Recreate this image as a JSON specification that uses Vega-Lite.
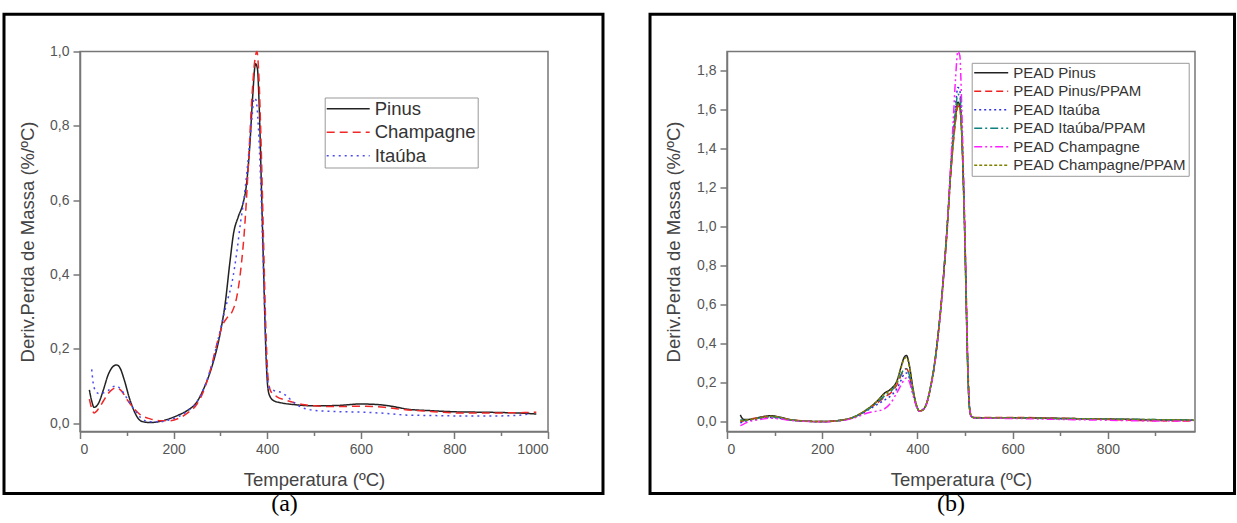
{
  "$schema": "https://vega.github.io/schema/vega-lite/v6.json",
  "padding": {"left": 1, "top": 11.5, "right": 0, "bottom": 0},
  "background": "white",
  "spacing": 41,
  "config": {
    "view": {"stroke": "#777", "strokeWidth": 1.5},
    "axis": {"labelFont": "Liberation Sans", "titleFont": "Liberation Sans", "titleFontWeight": "normal", "grid": false, "domainColor": "#777", "domainWidth": 1.5, "tickColor": "#777", "tickWidth": 1.5, "labelColor": "#555", "titleColor": "#444", "labelFontSize": 14, "titleFontSize": 18.5},
    "legend": {"labelFont": "Liberation Sans", "labelColor": "#333", "strokeColor": "#999", "symbolStrokeWidth": 1.6, "labelLimit": 400}
  },
  "resolve": {"scale": {"color": "independent", "strokeDash": "independent"}},
  "hconcat": [
    {
      "width": 468, "height": 380,
      "title": {"text": "(a)", "orient": "bottom", "anchor": "middle", "frame": "group", "dx": -29.5, "offset": -3, "font": "Liberation Serif", "fontSize": 24, "fontWeight": "normal", "color": "#000"},
      "layer": [
        {
          "data": {"values": [{"x0": -162.4, "x1": 1117.5, "y0": -0.189, "y1": 1.1}]},
          "mark": {"type": "rect", "fill": "transparent", "stroke": "#000", "strokeWidth": 3},
          "encoding": {
            "x": {"field": "x0", "type": "quantitative", "title": "Temperatura (ºC)"},
            "x2": {"field": "x1"},
            "y": {"field": "y0", "type": "quantitative", "title": "Deriv.Perda de Massa (%/ºC)"},
            "y2": {"field": "y1"}
          }
        },
        {
          "data": {"values": [
            {"s":"Pinus","T":20,"v":0.09},{"s":"Pinus","T":25,"v":0.06},{"s":"Pinus","T":30,"v":0.043},{"s":"Pinus","T":40,"v":0.055},{"s":"Pinus","T":50,"v":0.09},{"s":"Pinus","T":60,"v":0.13},{"s":"Pinus","T":70,"v":0.152},{"s":"Pinus","T":78,"v":0.157},{"s":"Pinus","T":85,"v":0.15},{"s":"Pinus","T":95,"v":0.115},{"s":"Pinus","T":105,"v":0.07},{"s":"Pinus","T":115,"v":0.035},{"s":"Pinus","T":125,"v":0.012},{"s":"Pinus","T":135,"v":0.004},{"s":"Pinus","T":150,"v":0.002},{"s":"Pinus","T":170,"v":0.005},{"s":"Pinus","T":190,"v":0.012},{"s":"Pinus","T":210,"v":0.022},{"s":"Pinus","T":230,"v":0.035},{"s":"Pinus","T":250,"v":0.058},{"s":"Pinus","T":265,"v":0.095},{"s":"Pinus","T":280,"v":0.145},{"s":"Pinus","T":300,"v":0.245},{"s":"Pinus","T":310,"v":0.32},{"s":"Pinus","T":320,"v":0.43},{"s":"Pinus","T":328,"v":0.51},{"s":"Pinus","T":338,"v":0.555},{"s":"Pinus","T":348,"v":0.59},{"s":"Pinus","T":356,"v":0.645},{"s":"Pinus","T":363,"v":0.75},{"s":"Pinus","T":369,"v":0.88},{"s":"Pinus","T":375,"v":0.967},{"s":"Pinus","T":379,"v":0.955},{"s":"Pinus","T":383,"v":0.85},{"s":"Pinus","T":388,"v":0.62},{"s":"Pinus","T":393,"v":0.38},{"s":"Pinus","T":397,"v":0.2},{"s":"Pinus","T":401,"v":0.1},{"s":"Pinus","T":405,"v":0.075},{"s":"Pinus","T":415,"v":0.06},{"s":"Pinus","T":430,"v":0.055},{"s":"Pinus","T":460,"v":0.05},{"s":"Pinus","T":500,"v":0.047},{"s":"Pinus","T":550,"v":0.048},{"s":"Pinus","T":600,"v":0.052},{"s":"Pinus","T":640,"v":0.05},{"s":"Pinus","T":670,"v":0.045},{"s":"Pinus","T":700,"v":0.038},{"s":"Pinus","T":750,"v":0.034},{"s":"Pinus","T":800,"v":0.031},{"s":"Pinus","T":850,"v":0.03},{"s":"Pinus","T":900,"v":0.029},{"s":"Pinus","T":950,"v":0.027},{"s":"Pinus","T":975,"v":0.025},
            {"s":"Champagne","T":20,"v":0.065},{"s":"Champagne","T":25,"v":0.04},{"s":"Champagne","T":30,"v":0.028},{"s":"Champagne","T":40,"v":0.04},{"s":"Champagne","T":50,"v":0.06},{"s":"Champagne","T":60,"v":0.08},{"s":"Champagne","T":70,"v":0.092},{"s":"Champagne","T":78,"v":0.095},{"s":"Champagne","T":88,"v":0.088},{"s":"Champagne","T":100,"v":0.065},{"s":"Champagne","T":115,"v":0.04},{"s":"Champagne","T":130,"v":0.022},{"s":"Champagne","T":150,"v":0.012},{"s":"Champagne","T":170,"v":0.007},{"s":"Champagne","T":190,"v":0.007},{"s":"Champagne","T":210,"v":0.013},{"s":"Champagne","T":230,"v":0.028},{"s":"Champagne","T":250,"v":0.052},{"s":"Champagne","T":265,"v":0.09},{"s":"Champagne","T":280,"v":0.15},{"s":"Champagne","T":295,"v":0.225},{"s":"Champagne","T":305,"v":0.265},{"s":"Champagne","T":315,"v":0.285},{"s":"Champagne","T":325,"v":0.3},{"s":"Champagne","T":335,"v":0.34},{"s":"Champagne","T":345,"v":0.43},{"s":"Champagne","T":352,"v":0.53},{"s":"Champagne","T":360,"v":0.7},{"s":"Champagne","T":367,"v":0.87},{"s":"Champagne","T":373,"v":0.97},{"s":"Champagne","T":378,"v":1.0},{"s":"Champagne","T":382,"v":0.94},{"s":"Champagne","T":387,"v":0.75},{"s":"Champagne","T":392,"v":0.5},{"s":"Champagne","T":397,"v":0.26},{"s":"Champagne","T":402,"v":0.12},{"s":"Champagne","T":408,"v":0.085},{"s":"Champagne","T":420,"v":0.072},{"s":"Champagne","T":440,"v":0.062},{"s":"Champagne","T":460,"v":0.055},{"s":"Champagne","T":480,"v":0.05},{"s":"Champagne","T":500,"v":0.047},{"s":"Champagne","T":550,"v":0.045},{"s":"Champagne","T":600,"v":0.046},{"s":"Champagne","T":650,"v":0.043},{"s":"Champagne","T":700,"v":0.036},{"s":"Champagne","T":750,"v":0.032},{"s":"Champagne","T":800,"v":0.028},{"s":"Champagne","T":850,"v":0.028},{"s":"Champagne","T":900,"v":0.028},{"s":"Champagne","T":950,"v":0.029},{"s":"Champagne","T":975,"v":0.03},
            {"s":"Itaúba","T":25,"v":0.145},{"s":"Itaúba","T":28,"v":0.11},{"s":"Itaúba","T":32,"v":0.09},{"s":"Itaúba","T":40,"v":0.08},{"s":"Itaúba","T":50,"v":0.082},{"s":"Itaúba","T":60,"v":0.088},{"s":"Itaúba","T":70,"v":0.098},{"s":"Itaúba","T":78,"v":0.1},{"s":"Itaúba","T":88,"v":0.09},{"s":"Itaúba","T":100,"v":0.068},{"s":"Itaúba","T":115,"v":0.038},{"s":"Itaúba","T":130,"v":0.015},{"s":"Itaúba","T":150,"v":0.004},{"s":"Itaúba","T":170,"v":0.004},{"s":"Itaúba","T":190,"v":0.009},{"s":"Itaúba","T":210,"v":0.018},{"s":"Itaúba","T":230,"v":0.033},{"s":"Itaúba","T":250,"v":0.058},{"s":"Itaúba","T":265,"v":0.095},{"s":"Itaúba","T":280,"v":0.15},{"s":"Itaúba","T":295,"v":0.225},{"s":"Itaúba","T":305,"v":0.28},{"s":"Itaúba","T":315,"v":0.33},{"s":"Itaúba","T":325,"v":0.38},{"s":"Itaúba","T":335,"v":0.46},{"s":"Itaúba","T":343,"v":0.54},{"s":"Itaúba","T":350,"v":0.6},{"s":"Itaúba","T":357,"v":0.68},{"s":"Itaúba","T":363,"v":0.76},{"s":"Itaúba","T":368,"v":0.83},{"s":"Itaúba","T":372,"v":0.875},{"s":"Itaúba","T":376,"v":0.87},{"s":"Itaúba","T":381,"v":0.8},{"s":"Itaúba","T":386,"v":0.65},{"s":"Itaúba","T":391,"v":0.45},{"s":"Itaúba","T":396,"v":0.25},{"s":"Itaúba","T":400,"v":0.13},{"s":"Itaúba","T":405,"v":0.095},{"s":"Itaúba","T":415,"v":0.088},{"s":"Itaúba","T":430,"v":0.083},{"s":"Itaúba","T":440,"v":0.075},{"s":"Itaúba","T":455,"v":0.058},{"s":"Itaúba","T":470,"v":0.045},{"s":"Itaúba","T":490,"v":0.037},{"s":"Itaúba","T":520,"v":0.033},{"s":"Itaúba","T":600,"v":0.03},{"s":"Itaúba","T":650,"v":0.027},{"s":"Itaúba","T":700,"v":0.022},{"s":"Itaúba","T":750,"v":0.021},{"s":"Itaúba","T":800,"v":0.02},{"s":"Itaúba","T":850,"v":0.02},{"s":"Itaúba","T":900,"v":0.02},{"s":"Itaúba","T":940,"v":0.022},{"s":"Itaúba","T":960,"v":0.025}
          ]},
          "mark": {"type": "line", "strokeWidth": 1.5, "interpolate": "monotone"},
          "encoding": {
            "x": {"field": "T", "type": "quantitative", "title": "Temperatura (ºC)",
              "scale": {"domain": [0, 1000], "nice": false, "zero": false},
              "axis": {"values": [0,100,200,300,400,500,600,700,800,900,1000],
                "labelExpr": "datum.value % 200 == 0 ? '' + datum.value : ''",
                "tickSize": {"condition": {"test": "datum.value % 200 == 0", "value": 7}, "value": 4},
                "titlePadding": 14, "labelPadding": 4}},
            "y": {"field": "v", "type": "quantitative", "title": "Deriv.Perda de Massa (%/ºC)",
              "scale": {"domain": [-0.022, 1.0], "nice": false, "zero": false},
              "axis": {"values": [0,0.1,0.2,0.3,0.4,0.5,0.6,0.7,0.8,0.9,1.0],
                "labelExpr": "round(datum.value*10) % 2 == 0 ? replace(format(datum.value, '.1f'), '.', ',') : ''",
                "tickSize": {"condition": {"test": "round(datum.value*10) % 2 == 0", "value": 7}, "value": 4},
                "titlePadding": 12, "labelPadding": 4}},
            "color": {"field": "s", "type": "nominal",
              "scale": {"domain": ["Pinus", "Champagne", "Itaúba"], "range": ["#222222", "#f02828", "#4a4af0"]},
              "legend": {"title": null, "orient": "none", "legendX": 244.7, "legendY": 46, "labelFontSize": 18.5, "symbolType": "M-1.85,0L6.75,0", "symbolSize": 100, "padding": 2, "rowPadding": 4.5, "labelOffset": 29.5}},
            "strokeDash": {"field": "s", "type": "nominal",
              "scale": {"domain": ["Pinus", "Champagne", "Itaúba"], "range": [[1, 0], [8, 5], [2, 4]]},
              "legend": {"title": null, "orient": "none", "legendX": 244.7, "legendY": 46, "labelFontSize": 18.5, "symbolType": "M-1.85,0L6.75,0", "symbolSize": 100, "padding": 2, "rowPadding": 4.5, "labelOffset": 29.5}}
          }
        }
      ]
    },
    {
      "width": 468, "height": 380,
      "title": {"text": "(b)", "orient": "bottom", "anchor": "middle", "frame": "group", "dx": -10, "offset": -3, "font": "Liberation Serif", "fontSize": 24, "fontWeight": "normal", "color": "#000"},
      "layer": [
        {
          "data": {"values": [{"x0": -161.7, "x1": 1066, "y0": -0.368, "y1": 2.0914}]},
          "mark": {"type": "rect", "fill": "transparent", "stroke": "#000", "strokeWidth": 3},
          "encoding": {
            "x": {"field": "x0", "type": "quantitative", "title": "Temperatura (ºC)"},
            "x2": {"field": "x1"},
            "y": {"field": "y0", "type": "quantitative", "title": "Deriv.Perda de Massa (%/ºC)"},
            "y2": {"field": "y1"}
          }
        },
        {
          "data": {"values": [
            {"s":"PEAD Pinus","T":28,"v":0.035},{"s":"PEAD Pinus","T":35,"v":0.012},{"s":"PEAD Pinus","T":45,"v":0.012},{"s":"PEAD Pinus","T":60,"v":0.018},{"s":"PEAD Pinus","T":75,"v":0.026},{"s":"PEAD Pinus","T":92,"v":0.031},{"s":"PEAD Pinus","T":110,"v":0.024},{"s":"PEAD Pinus","T":130,"v":0.012},{"s":"PEAD Pinus","T":160,"v":0.004},{"s":"PEAD Pinus","T":200,"v":0.001},{"s":"PEAD Pinus","T":240,"v":0.008},{"s":"PEAD Pinus","T":270,"v":0.028},{"s":"PEAD Pinus","T":295,"v":0.065},{"s":"PEAD Pinus","T":315,"v":0.105},{"s":"PEAD Pinus","T":330,"v":0.145},{"s":"PEAD Pinus","T":345,"v":0.17},{"s":"PEAD Pinus","T":357,"v":0.21},{"s":"PEAD Pinus","T":366,"v":0.285},{"s":"PEAD Pinus","T":372,"v":0.33},{"s":"PEAD Pinus","T":377,"v":0.34},{"s":"PEAD Pinus","T":383,"v":0.29},{"s":"PEAD Pinus","T":390,"v":0.18},{"s":"PEAD Pinus","T":397,"v":0.095},{"s":"PEAD Pinus","T":404,"v":0.056},{"s":"PEAD Pinus","T":411,"v":0.06},{"s":"PEAD Pinus","T":420,"v":0.1},{"s":"PEAD Pinus","T":428,"v":0.185},{"s":"PEAD Pinus","T":436,"v":0.3},{"s":"PEAD Pinus","T":443,"v":0.44},{"s":"PEAD Pinus","T":450,"v":0.61},{"s":"PEAD Pinus","T":457,"v":0.82},{"s":"PEAD Pinus","T":463,"v":1.02},{"s":"PEAD Pinus","T":469,"v":1.25},{"s":"PEAD Pinus","T":475,"v":1.44},{"s":"PEAD Pinus","T":480,"v":1.56},{"s":"PEAD Pinus","T":485,"v":1.64},{"s":"PEAD Pinus","T":489,"v":1.62},{"s":"PEAD Pinus","T":493,"v":1.48},{"s":"PEAD Pinus","T":497,"v":1.18},{"s":"PEAD Pinus","T":500,"v":0.9},{"s":"PEAD Pinus","T":503,"v":0.55},{"s":"PEAD Pinus","T":506,"v":0.25},{"s":"PEAD Pinus","T":509,"v":0.08},{"s":"PEAD Pinus","T":513,"v":0.028},{"s":"PEAD Pinus","T":520,"v":0.02},{"s":"PEAD Pinus","T":600,"v":0.02},{"s":"PEAD Pinus","T":700,"v":0.017},{"s":"PEAD Pinus","T":800,"v":0.014},{"s":"PEAD Pinus","T":900,"v":0.01},{"s":"PEAD Pinus","T":980,"v":0.008},
            {"s":"PEAD Pinus/PPAM","T":28,"v":0.0},{"s":"PEAD Pinus/PPAM","T":35,"v":0.005},{"s":"PEAD Pinus/PPAM","T":45,"v":0.012},{"s":"PEAD Pinus/PPAM","T":60,"v":0.018},{"s":"PEAD Pinus/PPAM","T":75,"v":0.024},{"s":"PEAD Pinus/PPAM","T":92,"v":0.027},{"s":"PEAD Pinus/PPAM","T":110,"v":0.022},{"s":"PEAD Pinus/PPAM","T":130,"v":0.012},{"s":"PEAD Pinus/PPAM","T":160,"v":0.004},{"s":"PEAD Pinus/PPAM","T":200,"v":0.001},{"s":"PEAD Pinus/PPAM","T":240,"v":0.008},{"s":"PEAD Pinus/PPAM","T":270,"v":0.027},{"s":"PEAD Pinus/PPAM","T":295,"v":0.062},{"s":"PEAD Pinus/PPAM","T":315,"v":0.095},{"s":"PEAD Pinus/PPAM","T":330,"v":0.125},{"s":"PEAD Pinus/PPAM","T":345,"v":0.15},{"s":"PEAD Pinus/PPAM","T":357,"v":0.19},{"s":"PEAD Pinus/PPAM","T":366,"v":0.24},{"s":"PEAD Pinus/PPAM","T":372,"v":0.268},{"s":"PEAD Pinus/PPAM","T":377,"v":0.272},{"s":"PEAD Pinus/PPAM","T":383,"v":0.24},{"s":"PEAD Pinus/PPAM","T":390,"v":0.16},{"s":"PEAD Pinus/PPAM","T":397,"v":0.088},{"s":"PEAD Pinus/PPAM","T":404,"v":0.055},{"s":"PEAD Pinus/PPAM","T":411,"v":0.06},{"s":"PEAD Pinus/PPAM","T":420,"v":0.098},{"s":"PEAD Pinus/PPAM","T":428,"v":0.18},{"s":"PEAD Pinus/PPAM","T":436,"v":0.29},{"s":"PEAD Pinus/PPAM","T":443,"v":0.43},{"s":"PEAD Pinus/PPAM","T":450,"v":0.6},{"s":"PEAD Pinus/PPAM","T":457,"v":0.8},{"s":"PEAD Pinus/PPAM","T":463,"v":1.0},{"s":"PEAD Pinus/PPAM","T":469,"v":1.23},{"s":"PEAD Pinus/PPAM","T":475,"v":1.42},{"s":"PEAD Pinus/PPAM","T":480,"v":1.54},{"s":"PEAD Pinus/PPAM","T":485,"v":1.62},{"s":"PEAD Pinus/PPAM","T":489,"v":1.61},{"s":"PEAD Pinus/PPAM","T":493,"v":1.5},{"s":"PEAD Pinus/PPAM","T":497,"v":1.22},{"s":"PEAD Pinus/PPAM","T":500,"v":0.95},{"s":"PEAD Pinus/PPAM","T":503,"v":0.62},{"s":"PEAD Pinus/PPAM","T":506,"v":0.3},{"s":"PEAD Pinus/PPAM","T":509,"v":0.1},{"s":"PEAD Pinus/PPAM","T":513,"v":0.03},{"s":"PEAD Pinus/PPAM","T":520,"v":0.022},{"s":"PEAD Pinus/PPAM","T":600,"v":0.022},{"s":"PEAD Pinus/PPAM","T":700,"v":0.018},{"s":"PEAD Pinus/PPAM","T":800,"v":0.012},{"s":"PEAD Pinus/PPAM","T":900,"v":0.005},{"s":"PEAD Pinus/PPAM","T":980,"v":0.004},
            {"s":"PEAD Itaúba","T":28,"v":-0.005},{"s":"PEAD Itaúba","T":35,"v":0.0},{"s":"PEAD Itaúba","T":45,"v":0.006},{"s":"PEAD Itaúba","T":60,"v":0.012},{"s":"PEAD Itaúba","T":75,"v":0.018},{"s":"PEAD Itaúba","T":92,"v":0.022},{"s":"PEAD Itaúba","T":110,"v":0.018},{"s":"PEAD Itaúba","T":130,"v":0.01},{"s":"PEAD Itaúba","T":160,"v":0.003},{"s":"PEAD Itaúba","T":200,"v":0.0},{"s":"PEAD Itaúba","T":240,"v":0.007},{"s":"PEAD Itaúba","T":270,"v":0.025},{"s":"PEAD Itaúba","T":295,"v":0.058},{"s":"PEAD Itaúba","T":315,"v":0.088},{"s":"PEAD Itaúba","T":330,"v":0.11},{"s":"PEAD Itaúba","T":345,"v":0.135},{"s":"PEAD Itaúba","T":357,"v":0.17},{"s":"PEAD Itaúba","T":366,"v":0.215},{"s":"PEAD Itaúba","T":372,"v":0.245},{"s":"PEAD Itaúba","T":377,"v":0.25},{"s":"PEAD Itaúba","T":383,"v":0.225},{"s":"PEAD Itaúba","T":390,"v":0.15},{"s":"PEAD Itaúba","T":397,"v":0.085},{"s":"PEAD Itaúba","T":404,"v":0.055},{"s":"PEAD Itaúba","T":411,"v":0.062},{"s":"PEAD Itaúba","T":420,"v":0.1},{"s":"PEAD Itaúba","T":428,"v":0.185},{"s":"PEAD Itaúba","T":436,"v":0.295},{"s":"PEAD Itaúba","T":443,"v":0.44},{"s":"PEAD Itaúba","T":450,"v":0.61},{"s":"PEAD Itaúba","T":457,"v":0.82},{"s":"PEAD Itaúba","T":463,"v":1.03},{"s":"PEAD Itaúba","T":469,"v":1.27},{"s":"PEAD Itaúba","T":475,"v":1.48},{"s":"PEAD Itaúba","T":480,"v":1.62},{"s":"PEAD Itaúba","T":485,"v":1.715},{"s":"PEAD Itaúba","T":489,"v":1.7},{"s":"PEAD Itaúba","T":493,"v":1.52},{"s":"PEAD Itaúba","T":497,"v":1.2},{"s":"PEAD Itaúba","T":500,"v":0.91},{"s":"PEAD Itaúba","T":503,"v":0.56},{"s":"PEAD Itaúba","T":506,"v":0.26},{"s":"PEAD Itaúba","T":509,"v":0.085},{"s":"PEAD Itaúba","T":513,"v":0.028},{"s":"PEAD Itaúba","T":520,"v":0.02},{"s":"PEAD Itaúba","T":600,"v":0.019},{"s":"PEAD Itaúba","T":700,"v":0.016},{"s":"PEAD Itaúba","T":800,"v":0.013},{"s":"PEAD Itaúba","T":900,"v":0.01},{"s":"PEAD Itaúba","T":980,"v":0.008},
            {"s":"PEAD Itaúba/PPAM","T":28,"v":0.01},{"s":"PEAD Itaúba/PPAM","T":35,"v":0.006},{"s":"PEAD Itaúba/PPAM","T":45,"v":0.01},{"s":"PEAD Itaúba/PPAM","T":60,"v":0.016},{"s":"PEAD Itaúba/PPAM","T":75,"v":0.022},{"s":"PEAD Itaúba/PPAM","T":92,"v":0.026},{"s":"PEAD Itaúba/PPAM","T":110,"v":0.021},{"s":"PEAD Itaúba/PPAM","T":130,"v":0.011},{"s":"PEAD Itaúba/PPAM","T":160,"v":0.004},{"s":"PEAD Itaúba/PPAM","T":200,"v":0.001},{"s":"PEAD Itaúba/PPAM","T":240,"v":0.008},{"s":"PEAD Itaúba/PPAM","T":270,"v":0.027},{"s":"PEAD Itaúba/PPAM","T":295,"v":0.062},{"s":"PEAD Itaúba/PPAM","T":315,"v":0.098},{"s":"PEAD Itaúba/PPAM","T":330,"v":0.13},{"s":"PEAD Itaúba/PPAM","T":345,"v":0.158},{"s":"PEAD Itaúba/PPAM","T":357,"v":0.2},{"s":"PEAD Itaúba/PPAM","T":366,"v":0.245},{"s":"PEAD Itaúba/PPAM","T":372,"v":0.27},{"s":"PEAD Itaúba/PPAM","T":377,"v":0.272},{"s":"PEAD Itaúba/PPAM","T":383,"v":0.24},{"s":"PEAD Itaúba/PPAM","T":390,"v":0.16},{"s":"PEAD Itaúba/PPAM","T":397,"v":0.09},{"s":"PEAD Itaúba/PPAM","T":404,"v":0.055},{"s":"PEAD Itaúba/PPAM","T":411,"v":0.06},{"s":"PEAD Itaúba/PPAM","T":420,"v":0.1},{"s":"PEAD Itaúba/PPAM","T":428,"v":0.183},{"s":"PEAD Itaúba/PPAM","T":436,"v":0.295},{"s":"PEAD Itaúba/PPAM","T":443,"v":0.435},{"s":"PEAD Itaúba/PPAM","T":450,"v":0.605},{"s":"PEAD Itaúba/PPAM","T":457,"v":0.815},{"s":"PEAD Itaúba/PPAM","T":463,"v":1.02},{"s":"PEAD Itaúba/PPAM","T":469,"v":1.26},{"s":"PEAD Itaúba/PPAM","T":475,"v":1.46},{"s":"PEAD Itaúba/PPAM","T":480,"v":1.6},{"s":"PEAD Itaúba/PPAM","T":485,"v":1.68},{"s":"PEAD Itaúba/PPAM","T":489,"v":1.67},{"s":"PEAD Itaúba/PPAM","T":493,"v":1.5},{"s":"PEAD Itaúba/PPAM","T":497,"v":1.19},{"s":"PEAD Itaúba/PPAM","T":500,"v":0.9},{"s":"PEAD Itaúba/PPAM","T":503,"v":0.55},{"s":"PEAD Itaúba/PPAM","T":506,"v":0.25},{"s":"PEAD Itaúba/PPAM","T":509,"v":0.08},{"s":"PEAD Itaúba/PPAM","T":513,"v":0.028},{"s":"PEAD Itaúba/PPAM","T":520,"v":0.021},{"s":"PEAD Itaúba/PPAM","T":600,"v":0.02},{"s":"PEAD Itaúba/PPAM","T":700,"v":0.017},{"s":"PEAD Itaúba/PPAM","T":800,"v":0.014},{"s":"PEAD Itaúba/PPAM","T":900,"v":0.011},{"s":"PEAD Itaúba/PPAM","T":980,"v":0.009},
            {"s":"PEAD Champagne","T":28,"v":-0.02},{"s":"PEAD Champagne","T":35,"v":-0.012},{"s":"PEAD Champagne","T":45,"v":0.0},{"s":"PEAD Champagne","T":60,"v":0.008},{"s":"PEAD Champagne","T":75,"v":0.014},{"s":"PEAD Champagne","T":92,"v":0.018},{"s":"PEAD Champagne","T":110,"v":0.015},{"s":"PEAD Champagne","T":130,"v":0.008},{"s":"PEAD Champagne","T":160,"v":0.002},{"s":"PEAD Champagne","T":200,"v":0.0},{"s":"PEAD Champagne","T":240,"v":0.006},{"s":"PEAD Champagne","T":270,"v":0.022},{"s":"PEAD Champagne","T":295,"v":0.045},{"s":"PEAD Champagne","T":315,"v":0.055},{"s":"PEAD Champagne","T":330,"v":0.065},{"s":"PEAD Champagne","T":345,"v":0.1},{"s":"PEAD Champagne","T":357,"v":0.15},{"s":"PEAD Champagne","T":366,"v":0.19},{"s":"PEAD Champagne","T":372,"v":0.215},{"s":"PEAD Champagne","T":377,"v":0.225},{"s":"PEAD Champagne","T":383,"v":0.205},{"s":"PEAD Champagne","T":390,"v":0.145},{"s":"PEAD Champagne","T":397,"v":0.085},{"s":"PEAD Champagne","T":404,"v":0.055},{"s":"PEAD Champagne","T":411,"v":0.06},{"s":"PEAD Champagne","T":420,"v":0.098},{"s":"PEAD Champagne","T":428,"v":0.18},{"s":"PEAD Champagne","T":436,"v":0.29},{"s":"PEAD Champagne","T":443,"v":0.43},{"s":"PEAD Champagne","T":450,"v":0.6},{"s":"PEAD Champagne","T":457,"v":0.81},{"s":"PEAD Champagne","T":463,"v":1.02},{"s":"PEAD Champagne","T":469,"v":1.28},{"s":"PEAD Champagne","T":475,"v":1.54},{"s":"PEAD Champagne","T":480,"v":1.76},{"s":"PEAD Champagne","T":485,"v":1.9},{"s":"PEAD Champagne","T":489,"v":1.88},{"s":"PEAD Champagne","T":493,"v":1.62},{"s":"PEAD Champagne","T":497,"v":1.25},{"s":"PEAD Champagne","T":500,"v":0.94},{"s":"PEAD Champagne","T":503,"v":0.58},{"s":"PEAD Champagne","T":506,"v":0.27},{"s":"PEAD Champagne","T":509,"v":0.09},{"s":"PEAD Champagne","T":513,"v":0.026},{"s":"PEAD Champagne","T":520,"v":0.018},{"s":"PEAD Champagne","T":600,"v":0.017},{"s":"PEAD Champagne","T":700,"v":0.012},{"s":"PEAD Champagne","T":800,"v":0.008},{"s":"PEAD Champagne","T":900,"v":0.004},{"s":"PEAD Champagne","T":980,"v":0.004},
            {"s":"PEAD Champagne/PPAM","T":28,"v":0.005},{"s":"PEAD Champagne/PPAM","T":35,"v":0.006},{"s":"PEAD Champagne/PPAM","T":45,"v":0.01},{"s":"PEAD Champagne/PPAM","T":60,"v":0.016},{"s":"PEAD Champagne/PPAM","T":75,"v":0.023},{"s":"PEAD Champagne/PPAM","T":92,"v":0.028},{"s":"PEAD Champagne/PPAM","T":110,"v":0.023},{"s":"PEAD Champagne/PPAM","T":130,"v":0.012},{"s":"PEAD Champagne/PPAM","T":160,"v":0.004},{"s":"PEAD Champagne/PPAM","T":200,"v":0.001},{"s":"PEAD Champagne/PPAM","T":240,"v":0.008},{"s":"PEAD Champagne/PPAM","T":270,"v":0.028},{"s":"PEAD Champagne/PPAM","T":295,"v":0.066},{"s":"PEAD Champagne/PPAM","T":315,"v":0.105},{"s":"PEAD Champagne/PPAM","T":330,"v":0.14},{"s":"PEAD Champagne/PPAM","T":345,"v":0.165},{"s":"PEAD Champagne/PPAM","T":357,"v":0.205},{"s":"PEAD Champagne/PPAM","T":366,"v":0.28},{"s":"PEAD Champagne/PPAM","T":372,"v":0.322},{"s":"PEAD Champagne/PPAM","T":377,"v":0.33},{"s":"PEAD Champagne/PPAM","T":383,"v":0.285},{"s":"PEAD Champagne/PPAM","T":390,"v":0.175},{"s":"PEAD Champagne/PPAM","T":397,"v":0.093},{"s":"PEAD Champagne/PPAM","T":404,"v":0.056},{"s":"PEAD Champagne/PPAM","T":411,"v":0.06},{"s":"PEAD Champagne/PPAM","T":420,"v":0.1},{"s":"PEAD Champagne/PPAM","T":428,"v":0.185},{"s":"PEAD Champagne/PPAM","T":436,"v":0.298},{"s":"PEAD Champagne/PPAM","T":443,"v":0.438},{"s":"PEAD Champagne/PPAM","T":450,"v":0.608},{"s":"PEAD Champagne/PPAM","T":457,"v":0.815},{"s":"PEAD Champagne/PPAM","T":463,"v":1.015},{"s":"PEAD Champagne/PPAM","T":469,"v":1.245},{"s":"PEAD Champagne/PPAM","T":475,"v":1.435},{"s":"PEAD Champagne/PPAM","T":480,"v":1.555},{"s":"PEAD Champagne/PPAM","T":485,"v":1.63},{"s":"PEAD Champagne/PPAM","T":489,"v":1.61},{"s":"PEAD Champagne/PPAM","T":493,"v":1.47},{"s":"PEAD Champagne/PPAM","T":497,"v":1.17},{"s":"PEAD Champagne/PPAM","T":500,"v":0.89},{"s":"PEAD Champagne/PPAM","T":503,"v":0.545},{"s":"PEAD Champagne/PPAM","T":506,"v":0.245},{"s":"PEAD Champagne/PPAM","T":509,"v":0.08},{"s":"PEAD Champagne/PPAM","T":513,"v":0.028},{"s":"PEAD Champagne/PPAM","T":520,"v":0.02},{"s":"PEAD Champagne/PPAM","T":600,"v":0.02},{"s":"PEAD Champagne/PPAM","T":700,"v":0.017},{"s":"PEAD Champagne/PPAM","T":800,"v":0.014},{"s":"PEAD Champagne/PPAM","T":900,"v":0.011},{"s":"PEAD Champagne/PPAM","T":980,"v":0.009}
          ]},
          "mark": {"type": "line", "strokeWidth": 1.5, "interpolate": "monotone"},
          "encoding": {
            "x": {"field": "T", "type": "quantitative", "title": "Temperatura (ºC)",
              "scale": {"domain": [0, 983], "nice": false, "zero": false},
              "axis": {"values": [0,100,200,300,400,500,600,700,800,900],
                "labelExpr": "datum.value % 200 == 0 ? '' + datum.value : ''",
                "tickSize": {"condition": {"test": "datum.value % 200 == 0", "value": 7}, "value": 4},
                "titlePadding": 14, "labelPadding": 4}},
            "y": {"field": "v", "type": "quantitative", "title": "Deriv.Perda de Massa (%/ºC)",
              "scale": {"domain": [-0.05, 1.9], "nice": false, "zero": false},
              "axis": {"values": [0,0.1,0.2,0.3,0.4,0.5,0.6,0.7,0.8,0.9,1.0,1.1,1.2,1.3,1.4,1.5,1.6,1.7,1.8],
                "labelExpr": "round(datum.value*10) % 2 == 0 ? replace(format(datum.value, '.1f'), '.', ',') : ''",
                "tickSize": {"condition": {"test": "round(datum.value*10) % 2 == 0", "value": 7}, "value": 4},
                "titlePadding": 13, "labelPadding": 4}},
            "color": {"field": "s", "type": "nominal",
              "scale": {"domain": ["PEAD Pinus", "PEAD Pinus/PPAM", "PEAD Itaúba", "PEAD Itaúba/PPAM", "PEAD Champagne", "PEAD Champagne/PPAM"], "range": ["#222222", "#f02020", "#3030e0", "#108080", "#ff20ff", "#808000"]},
              "legend": {"title": null, "orient": "none", "legendX": 244.7, "legendY": 11.3, "labelFontSize": 15, "symbolType": "M-1.5,0L5.3,0", "symbolSize": 100, "padding": 2.5, "rowPadding": 2.5, "labelOffset": 24}},
            "strokeDash": {"field": "s", "type": "nominal",
              "scale": {"domain": ["PEAD Pinus", "PEAD Pinus/PPAM", "PEAD Itaúba", "PEAD Itaúba/PPAM", "PEAD Champagne", "PEAD Champagne/PPAM"], "range": [[1, 0], [7, 4], [2, 3], [8, 3, 2, 3], [8, 3, 2, 3, 2, 3], [3, 2]]},
              "legend": {"title": null, "orient": "none", "legendX": 244.7, "legendY": 11.3, "labelFontSize": 15, "symbolType": "M-1.5,0L5.3,0", "symbolSize": 100, "padding": 2.5, "rowPadding": 2.5, "labelOffset": 24}}
          }
        }
      ]
    }
  ]
}
